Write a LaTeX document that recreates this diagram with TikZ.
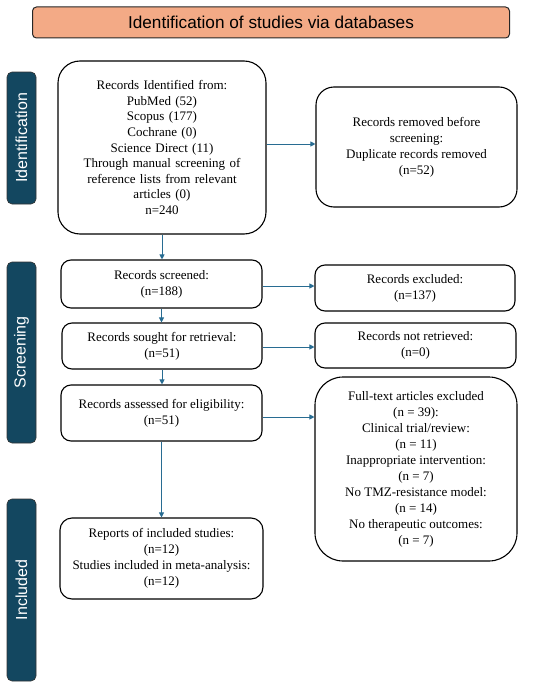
\documentclass[tikz,border=0pt]{standalone}
\usepackage{fontspec}
\setmainfont{Liberation Serif}
\newfontfamily\labfont{Liberation Sans}
\usetikzlibrary{arrows.meta}
\definecolor{titlefill}{RGB}{243,170,134}
\definecolor{barfill}{RGB}{19,71,96}
\definecolor{arrowblue}{RGB}{40,108,146}
\tikzset{
  x=1pt, y=-1pt,
  box/.style={draw=black, line width=1.1pt, fill=white, align=center, inner sep=2pt,
    font=\fontsize{13}{16}\selectfont},
  sidebar/.style={fill=barfill, draw=black!80, line width=0.6pt, rounded corners=5pt,
    minimum height=29pt, text=white, font=\labfont\fontsize{16}{18}\selectfont, rotate=90},
  arr/.style={draw=arrowblue, line width=1pt, -{Triangle[length=5pt,width=5pt]}}
}
\begin{document}
\begin{tikzpicture}
\useasboundingbox (0,0) rectangle (550,685);
\node[draw=black!85, line width=1pt, fill=titlefill, rounded corners=4pt, minimum width=477pt, minimum height=31pt,
  font=\labfont\fontsize{17.2}{20}\selectfont] (title) at (271,22.5) {Identification of studies via databases};

\node[sidebar, minimum width=132pt] (sid) at (21.5,138) {Identification};
\node[sidebar, minimum width=181pt] (ssc) at (21.5,352.5) {Screening};
\node[sidebar, minimum width=182pt] (sin) at (21.5,590) {Included};

\node[box, rounded corners=22pt, minimum width=208pt, minimum height=173pt, text width=190pt,
  font=\fontsize{13}{15.6}\selectfont] (idf) at (162,147.5)
  {Records Identified from:\\PubMed (52)\\Scopus (177)\\Cochrane (0)\\Science Direct (11)\\Through manual screening of\\reference lists from relevant\\articles (0)\\n=240};
\node[box, rounded corners=18pt, minimum width=201pt, minimum height=120pt] (rem) at (416.5,147)
  {Records removed before\\screening:\\Duplicate records removed\\(n=52)};
\node[box, rounded corners=10pt, minimum width=201pt, minimum height=48pt] (scr) at (161.5,284)
  {Records screened:\\(n=188)};
\node[box, rounded corners=10pt, minimum width=200pt, minimum height=46pt] (exc) at (415,288)
  {Records excluded:\\(n=137)};
\node[box, rounded corners=10pt, minimum width=200pt, minimum height=46pt] (sou) at (162,346)
  {Records sought for retrieval:\\(n=51)};
\node[box, rounded corners=10pt, minimum width=201pt, minimum height=45pt] (nr) at (415.5,345.5)
  {Records not retrieved:\\(n=0)};
\node[box, rounded corners=10pt, minimum width=201pt, minimum height=56pt] (ass) at (161.5,413)
  {Records assessed for eligibility:\\(n=51)};
\node[box, rounded corners=28pt, minimum width=202pt, minimum height=184pt] (ft) at (416,469)
  {Full-text articles excluded\\(n = 39):\\Clinical trial/review:\\(n = 11)\\Inappropriate intervention:\\(n = 7)\\No TMZ-resistance model:\\(n = 14)\\No therapeutic outcomes:\\(n = 7)};
\node[box, rounded corners=12pt, minimum width=203pt, minimum height=81pt] (inc) at (161.5,558.5)
  {Reports of included studies:\\(n=12)\\Studies included in meta-analysis:\\(n=12)};

\draw[arr] ([yshift=3.5pt]idf.east) -- ([yshift=3.5pt]idf.east -| rem.west);
\draw[arr] ([yshift=-2pt]scr.east) -- ([yshift=-2pt]scr.east -| exc.west);
\draw[arr] ([yshift=-1pt]sou.east) -- ([yshift=-1pt]sou.east -| nr.west);
\draw[arr] ([yshift=-4pt]ass.east) -- ([yshift=-4pt]ass.east -| ft.west);
\draw[arr] (idf.south) -- (idf.south |- scr.north);
\draw[arr] (scr.south) -- (scr.south |- sou.north);
\draw[arr] (sou.south) -- (sou.south |- ass.north);
\draw[arr] (ass.south) -- (ass.south |- inc.north);
\end{tikzpicture}
\end{document}
